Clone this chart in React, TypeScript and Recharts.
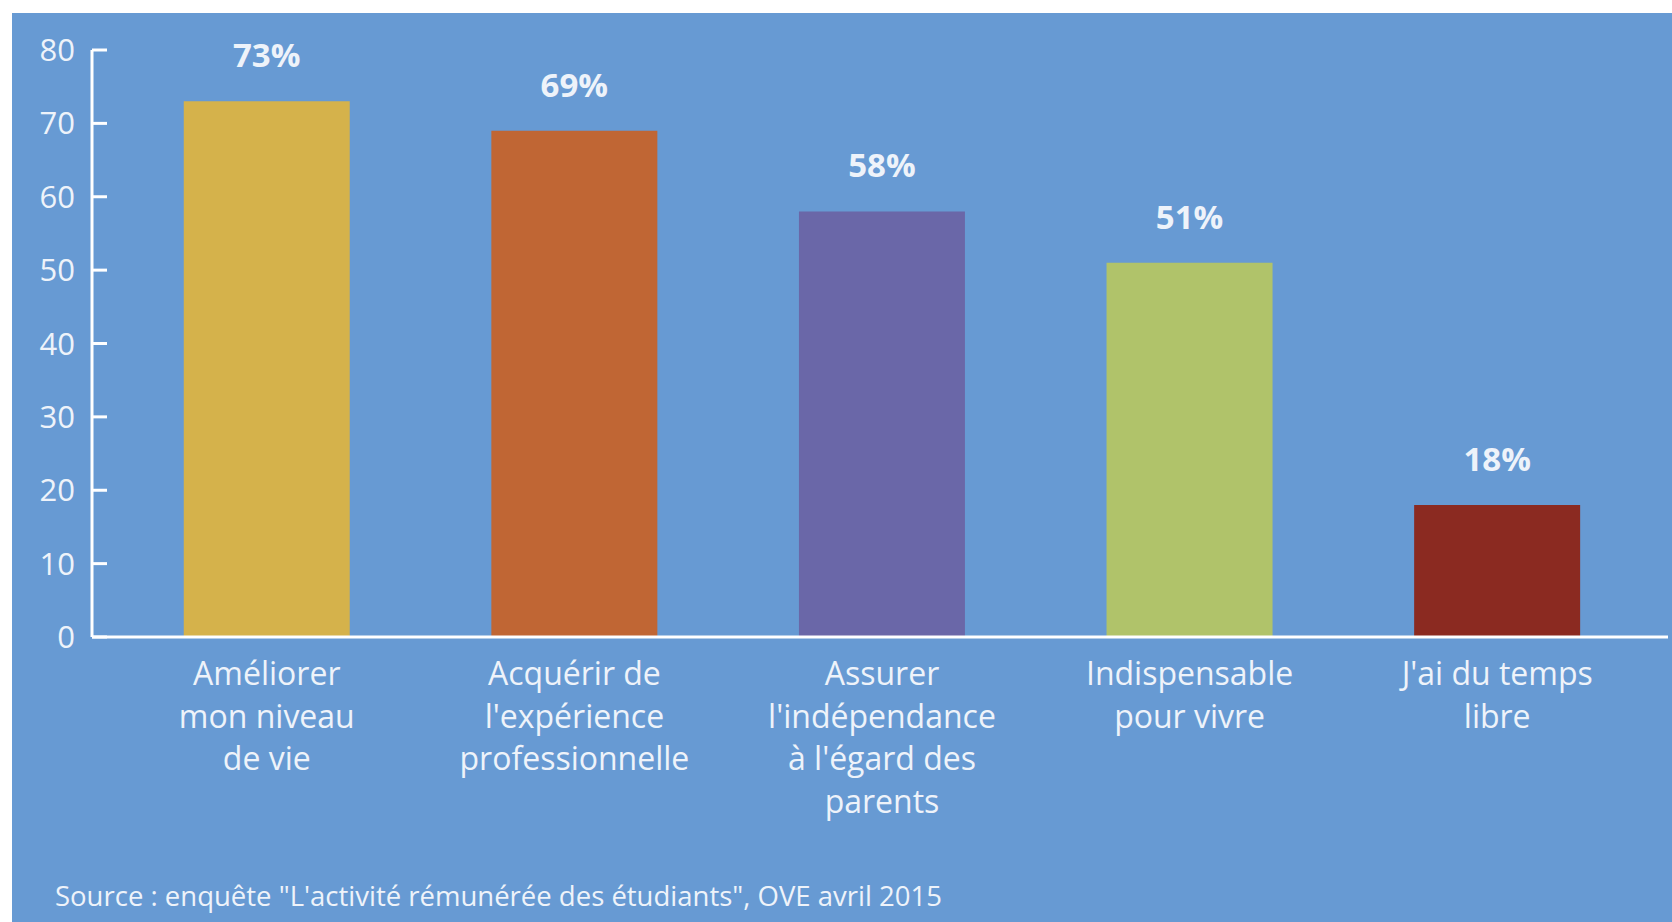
import { BarChart, Bar, XAxis, YAxis, Cell, LabelList } from 'recharts';

const categories = [
  'Améliorer mon niveau de vie',
  "Acquérir de l'expérience professionnelle",
  "Assurer l'indépendance à l'égard des parents",
  'Indispensable pour vivre',
  "J'ai du temps libre",
];

// lignes telles qu'elles sont coupées sur le graphique
const categoryLines = [
  ['Améliorer', 'mon niveau', 'de vie'],
  ['Acquérir de', "l'expérience", 'professionnelle'],
  ['Assurer', "l'indépendance", "à l'égard des", 'parents'],
  ['Indispensable', 'pour vivre'],
  ["J'ai du temps", 'libre'],
];

const percentages = [73, 69, 58, 51, 18];
const barColors = ['#d5b24b', '#c06634', '#6a67a8', '#b0c36a', '#8b2a21'];
const yTicks = [0, 10, 20, 30, 40, 50, 60, 70, 80];

const sourceText = 'Source : enquête "L\'activité rémunérée des étudiants", OVE avril 2015';

const data = categories.map((name, i) => ({
  name,
  lines: categoryLines[i],
  value: percentages[i],
}));

const BG = '#679ad3';
const TEXT = '#eef3fa';
const FONT = '"Open Sans", "Noto Sans", sans-serif';

function YTick(props: any) {
  const { x, y, payload } = props;
  return (
    <g>
      <line x1={x} y1={y} x2={x + 15} y2={y} stroke="#fff" strokeWidth={3} />
      <text x={x - 17} y={y} dy={11} textAnchor="end" fill={TEXT} fontSize={31} fontFamily={FONT}>
        {payload.value}
      </text>
    </g>
  );
}

function XTick(props: any) {
  const { x, y, index } = props;
  const lines = categoryLines[index] || [];
  return (
    <text x={x} y={y} textAnchor="middle" fill={TEXT} fontSize={32} fontFamily={FONT}>
      {lines.map((l, i) => (
        <tspan key={i} x={x} dy={i === 0 ? 48 : 42.5}>
          {l}
        </tspan>
      ))}
    </text>
  );
}

export default function App() {
  return (
    <div style={{ position: 'absolute', left: 0, top: 0, width: 1672, height: 922, background: '#fff', overflow: 'hidden' }}>
      <div style={{ position: 'absolute', left: 12, top: 13, width: 1660, height: 909, background: BG }} />
      <div style={{ position: 'absolute', left: 0, top: 0 }}>
        <BarChart
          width={1672}
          height={922}
          data={data}
          margin={{ top: 50, right: 4, bottom: 255, left: 0 }}
          barCategoryGap="23%"
        >
          <XAxis
            dataKey="name"
            height={30}
            padding={{ left: 21, right: 17 }}
            axisLine={{ stroke: '#fff', strokeWidth: 3 }}
            tickLine={false}
            tickSize={0}
            tickMargin={0}
            interval={0}
            tick={<XTick />}
          />
          <YAxis
            width={92}
            domain={[0, 80]}
            ticks={yTicks}
            interval={0}
            axisLine={{ stroke: '#fff', strokeWidth: 3 }}
            tickLine={false}
            tickSize={0}
            tickMargin={0}
            tick={<YTick />}
          />
          <Bar dataKey="value" isAnimationActive={false}>
            {data.map((d, i) => (
              <Cell key={d.name} fill={barColors[i]} />
            ))}
            <LabelList
              dataKey="value"
              position="top"
              offset={34}
              formatter={(v: any) => `${v}%`}
              fill={TEXT}
              fontSize={33}
              fontWeight="bold"
              fontFamily={FONT}
            />
          </Bar>
        </BarChart>
      </div>
      <div
        style={{
          position: 'absolute',
          left: 55,
          top: 877,
          color: TEXT,
          fontSize: 27.5,
          fontFamily: FONT,
          lineHeight: '38px',
          whiteSpace: 'nowrap',
        }}
      >
        {sourceText}
      </div>
    </div>
  );
}
